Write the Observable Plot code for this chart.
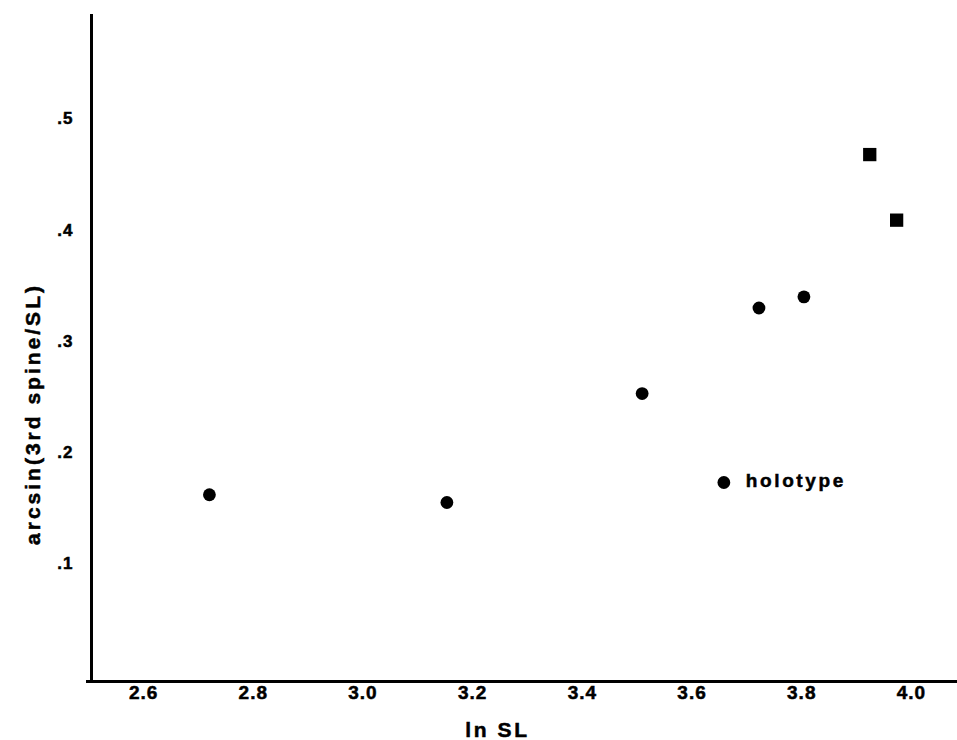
<!DOCTYPE html>
<html>
<head>
<meta charset="utf-8">
<script src="https://cdn.jsdelivr.net/npm/d3@7"></script>
<script src="https://cdn.jsdelivr.net/npm/@observablehq/plot@0.6"></script>
<style>
  html, body { margin: 0; padding: 0; background: #fff; }
  #chart svg { display: block; }
  #chart svg text { stroke: #000; stroke-width: 0.5px; }
  #chart .xtick, #chart .xtick text { letter-spacing: 1px; }
  #chart .ytick, #chart .ytick text { letter-spacing: 1px; }
  #chart .holo, #chart .holo text { letter-spacing: 2.6px; }
  #chart .axlbl, #chart .axlbl text { letter-spacing: 2.6px; }
  #chart .ylbl, #chart .ylbl text { letter-spacing: 3px; }
</style>
</head>
<body>
<div id="chart"></div>
<script>
// Data
const circleLnSL  = [2.72, 3.153, 3.509, 3.722, 3.804];
const circleValue = [0.162, 0.155, 0.253, 0.330, 0.340];
const holotypeLnSL = [3.658];
const holotypeValue = [0.173];
const holotypeLabel = ["holotype"];
const squareLnSL  = [3.924, 3.973];
const squareValue = [0.468, 0.409];
const xTicks = [2.6, 2.8, 3.0, 3.2, 3.4, 3.6, 3.8, 4.0];
const yTicks = [0.1, 0.2, 0.3, 0.4, 0.5];
const xDomain = [2.505, 4.084];
const yDomain = [-0.006, 0.594];
const xLabel = "ln SL";
const yLabel = "arcsin(3rd spine/SL)";

const circles = circleLnSL.map((x, i) => ({x, y: circleValue[i]}));
const holotype = holotypeLnSL.map((x, i) => ({x, y: holotypeValue[i], label: holotypeLabel[i]}));
const squares = squareLnSL.map((x, i) => ({x, y: squareValue[i]}));

const font = "'Liberation Sans', Arial, Helvetica, sans-serif";
const yFmt = d => d3.format(".1f")(d).replace(/^0/, "");

const chart = Plot.plot({
  width: 957,
  height: 740,
  marginLeft: 91,
  marginRight: 0,
  marginTop: 14,
  marginBottom: 59,
  style: {fontFamily: font, background: "#fff", color: "#000"},
  x: {domain: xDomain},
  y: {domain: yDomain},
  marks: [
    Plot.axisX({ticks: xTicks, tickFormat: d3.format(".1f"), tickSize: 0, tickPadding: 4, fontSize: 19, fontWeight: "bold", className: "xtick", label: null}),
    Plot.axisY({ticks: yTicks, tickFormat: yFmt, tickSize: 0, tickPadding: 18, fontSize: 17, fontWeight: "bold", className: "ytick", label: null}),
    Plot.ruleY([yDomain[0]], {stroke: "#000", strokeWidth: 3, insetLeft: -5}),
    Plot.ruleX([xDomain[0]], {stroke: "#000", strokeWidth: 3, insetBottom: -1}),
    Plot.dot(circles, {x: "x", y: "y", r: 6.4, fill: "#000", stroke: "none"}),
    Plot.dot(holotype, {x: "x", y: "y", r: 6.4, fill: "#000", stroke: "none"}),
    Plot.text(holotype, {x: "x", y: "y", text: "label", dx: 22, dy: -2, textAnchor: "start", lineAnchor: "middle", fontSize: 19, fontWeight: "bold", fill: "#000", className: "holo"}),
    Plot.dot(squares, {x: "x", y: "y", symbol: "square", r: 7.5, fill: "#000", stroke: "none"}),
    Plot.text([xLabel], {frameAnchor: "bottom", textAnchor: "middle", lineAnchor: "middle", dx: -27, dy: 49, fontSize: 21, fontWeight: "bold", fill: "#000", className: "axlbl"}),
    Plot.text([yLabel], {frameAnchor: "left", textAnchor: "middle", lineAnchor: "middle", dx: -58, dy: 66, rotate: -90, fontSize: 21, fontWeight: "bold", fill: "#000", className: "ylbl"})
  ]
});
document.getElementById("chart").appendChild(chart);
</script>
</body>
</html>
